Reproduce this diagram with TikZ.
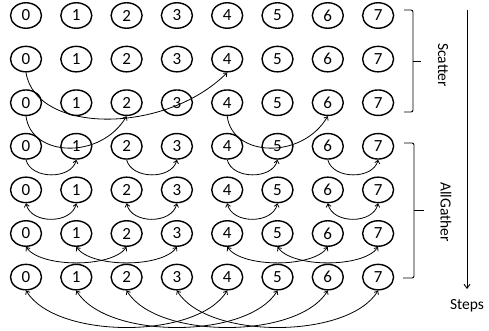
\documentclass[tikz,border=0pt]{standalone}
\usepackage{fontspec}
\setmainfont{Carlito}
\usetikzlibrary{arrows.meta,shapes.geometric}
\begin{document}
\begin{tikzpicture}[x=1pt,y=-1pt,
  proc/.style={draw,line width=1.4pt,ellipse,minimum width=31pt,minimum height=25.5pt,inner sep=0pt,font=\fontsize{17}{17}\selectfont},
  link/.style={line width=0.8pt,-{Straight Barb[length=3pt,width=5pt]}},
  both/.style={line width=0.8pt,{Straight Barb[length=3pt,width=5pt]}-{Straight Barb[length=3pt,width=5pt]}},
  brk/.style={line width=0.9pt,rounded corners=2pt},
  lbl/.style={font=\fontsize{15.5}{15.5}\selectfont}]
\useasboundingbox (0,0) rectangle (489,331);
\foreach \r in {1,...,7}{
  \foreach \c in {0,...,7}{
    \node[proc] (r\r c\c) at ({26+50.3*\c},{15.5+43.6*(\r-1)}) {\c};
  }
}
% Scatter step 1 (row 2): 0 -> 4
\draw[link] (r2c0.south) .. controls +(10,62) and +(-62,62) .. (r2c4.south);
% Scatter step 2 (row 3): 0 -> 2, 4 -> 6
\draw[link] (r3c0.south) .. controls +(5,41) and +(-26,44) .. (r3c2.south);
\draw[link] (r3c4.south) .. controls +(5,41) and +(-26,44) .. (r3c6.south);
% Scatter step 3 (row 4): 0->1, 2->3, 4->5, 6->7
\foreach \a/\b in {0/1,2/3,4/5,6/7}{
  \draw[link] (r4c\a.south) .. controls +(5,20) and +(-5,20) .. (r4c\b.south);
}
% AllGather step 1 (row 5)
\foreach \a/\b in {0/1,2/3,4/5,6/7}{
  \draw[both] (r5c\a.south) .. controls +(5,21) and +(-5,21) .. (r5c\b.south);
}
% AllGather step 2 (row 6)
\foreach \a/\b in {0/2,1/3,4/6,5/7}{
  \draw[both] (r6c\a.south) .. controls +(15,21) and +(-15,21) .. (r6c\b.south);
}
% AllGather step 3 (row 7)
\foreach \a/\b in {0/4,1/5,2/6,3/7}{
  \draw[both] (r7c\a.south) .. controls +(30,49) and +(-30,49) .. (r7c\b.south);
}
% brackets
\draw[brk] (404,10) -- (413,10) -- (413,112) -- (404,112);
\draw[line width=0.9pt] (413,61) -- (421,61);
\draw[brk] (404,143) -- (414,143) -- (414,278) -- (403,278);
\draw[line width=0.9pt] (414,210) -- (424,210);
\node[lbl,rotate=-90] (scat) at (443,65) {Scatter};
\node[lbl,rotate=-90] (ag) at (446,212) {AllGather};
% steps arrow
\coordinate (stTop) at (467,10);
\coordinate (stBot) at (467,289);
\draw[line width=0.9pt,-{Straight Barb[length=4pt,width=6pt]}] (stTop) -- (stBot);
\node[lbl] (steps) at (467,306) {Steps};
\end{tikzpicture}
\end{document}
